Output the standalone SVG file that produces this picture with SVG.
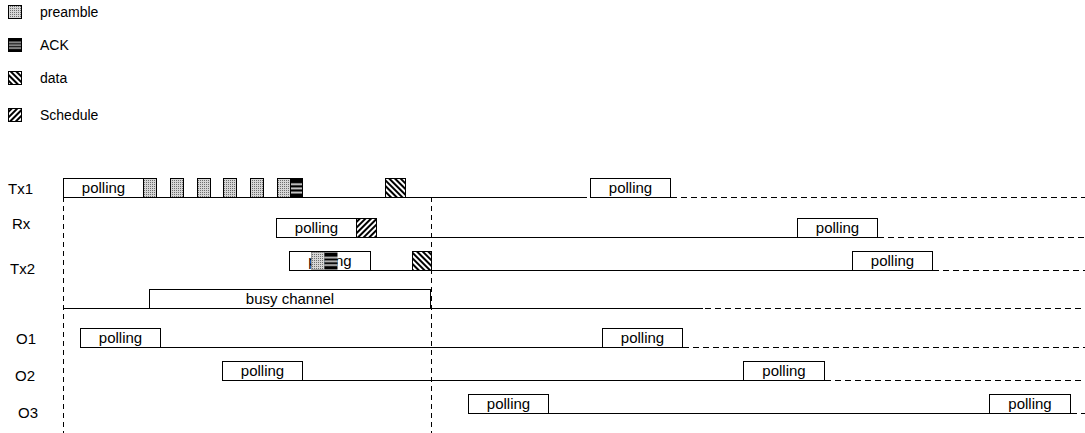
<svg xmlns="http://www.w3.org/2000/svg" width="1085" height="433" viewBox="0 0 1085 433">
<style>
text{font-family:"Liberation Sans",Arial,sans-serif;font-size:15px;fill:#000}
.lg{font-size:14px}
.c{text-anchor:middle}
.box{fill:#fff;stroke:#000;stroke-width:1}
.blk{stroke:#000;stroke-width:1}
.ln{stroke:#000;stroke-width:1;fill:none}
.dh{stroke:#000;stroke-width:1;fill:none;stroke-dasharray:6 4}
.dv{stroke:#000;stroke-width:1;fill:none;stroke-dasharray:5 4}
</style>
<defs>
<pattern id="pre" width="2" height="2" patternUnits="userSpaceOnUse"><rect width="2" height="2" fill="#d6d6d6"/><rect width="1" height="1" fill="#6e6e6e"/></pattern>
<pattern id="ack" width="1" height="1" patternUnits="objectBoundingBox" patternContentUnits="objectBoundingBox"><rect width="1" height="1" fill="#000"/><rect y="0.26" width="1" height="0.08" fill="#fff"/><rect y="0.48" width="1" height="0.08" fill="#fff"/><rect y="0.7" width="1" height="0.08" fill="#fff"/></pattern>
<pattern id="dat" width="4" height="4" patternUnits="userSpaceOnUse" patternTransform="rotate(-45)"><rect width="4" height="4" fill="#fff"/><rect width="2" height="4" fill="#000"/></pattern>
<pattern id="sch" width="4" height="4" patternUnits="userSpaceOnUse" patternTransform="rotate(45)"><rect width="4" height="4" fill="#fff"/><rect width="2" height="4" fill="#000"/></pattern>
</defs>

<g id="legend">
<rect class="blk" x="8.5" y="5.5" width="13" height="13" fill="url(#pre)"/><text class="lg" x="40" y="17">preamble</text>
<rect class="blk" x="8.5" y="38.5" width="13" height="13" fill="url(#ack)"/><text class="lg" x="40" y="50">ACK</text>
<rect class="blk" x="8.5" y="71.5" width="13" height="13" fill="url(#dat)"/><text class="lg" x="40" y="83">data</text>
<rect class="blk" x="8.5" y="108.5" width="13" height="13" fill="url(#sch)"/><text class="lg" x="40" y="120">Schedule</text>
</g>

<g id="labels">
<text x="8" y="194">Tx1</text>
<text x="12" y="229">Rx</text>
<text x="10" y="274">Tx2</text>
<text x="16" y="344">O1</text>
<text x="15" y="381">O2</text>
<text x="18" y="418">O3</text>
</g>

<g id="connectors">
<line class="dv" x1="63.5" y1="197" x2="63.5" y2="433"/>
<line class="dv" x1="431.5" y1="197" x2="431.5" y2="433"/>
<line class="ln" x1="63" y1="197.5" x2="587" y2="197.5"/>
<line class="dh" x1="671" y1="197.5" x2="1085" y2="197.5"/>
<line class="ln" x1="276" y1="237.5" x2="797" y2="237.5"/>
<line class="dh" x1="878" y1="237.5" x2="1085" y2="237.5"/>
<line class="ln" x1="289" y1="270.5" x2="852" y2="270.5"/>
<line class="dh" x1="933" y1="270.5" x2="1085" y2="270.5"/>
<line class="ln" x1="63" y1="308.5" x2="703" y2="308.5"/>
<line class="dh" x1="705" y1="308.5" x2="1085" y2="308.5"/>
<line class="ln" x1="80" y1="347.5" x2="602" y2="347.5"/>
<line class="dh" x1="683" y1="347.5" x2="1085" y2="347.5"/>
<line class="ln" x1="222" y1="380.5" x2="743" y2="380.5"/>
<line class="dh" x1="825" y1="380.5" x2="1085" y2="380.5"/>
<line class="ln" x1="468" y1="413.5" x2="989" y2="413.5"/>
<line class="dh" x1="1071" y1="413.5" x2="1085" y2="413.5"/>
</g>

<g id="tx1">
<g id="tx1-poll1"><rect class="box" x="63.5" y="178.5" width="80" height="19"/><text class="c" x="103.5" y="193">polling</text></g>
<rect class="blk" x="143.5" y="178.5" width="13" height="19" fill="url(#pre)"/>
<rect class="blk" x="170.5" y="178.5" width="13" height="19" fill="url(#pre)"/>
<rect class="blk" x="197.5" y="178.5" width="13" height="19" fill="url(#pre)"/>
<rect class="blk" x="223.5" y="178.5" width="13" height="19" fill="url(#pre)"/>
<rect class="blk" x="250.5" y="178.5" width="13" height="19" fill="url(#pre)"/>
<rect class="blk" x="277.5" y="178.5" width="13" height="19" fill="url(#pre)"/>
<rect class="blk" x="290.5" y="178.5" width="12" height="19" fill="url(#ack)"/>
<rect class="blk" x="385.5" y="178.5" width="20" height="19" fill="url(#dat)"/>
<g id="tx1-poll2"><rect class="box" x="590.5" y="178.5" width="80" height="19"/><text class="c" x="630.5" y="193">polling</text></g>
</g>

<g id="rx">
<g id="rx-poll1"><rect class="box" x="276.5" y="218.5" width="80" height="19"/><text class="c" x="316.5" y="233">polling</text></g>
<rect class="blk" x="356.5" y="218.5" width="20" height="19" fill="url(#sch)"/>
<g id="rx-poll2"><rect class="box" x="797.5" y="218.5" width="80" height="19"/><text class="c" x="837.5" y="233">polling</text></g>
</g>

<g id="tx2">
<g id="tx2-poll1"><rect class="box" x="289.5" y="251.5" width="81" height="19"/><text class="c" x="330" y="266">polling</text></g>
<rect x="311.5" y="252.5" width="13" height="17" fill="url(#pre)" stroke="#555" stroke-width="0.5"/>
<rect x="324.5" y="252.5" width="13" height="17" fill="url(#ack)"/>
<rect class="blk" x="412.5" y="251.5" width="19" height="19" fill="url(#dat)"/>
<g id="tx2-poll2"><rect class="box" x="852.5" y="251.5" width="80" height="19"/><text class="c" x="892.5" y="266">polling</text></g>
</g>

<g id="busy">
<rect class="box" x="149.5" y="289.5" width="281" height="19"/><text class="c" x="290" y="304">busy channel</text>
</g>

<g id="o1">
<g id="o1-poll1"><rect class="box" x="80.5" y="328.5" width="80" height="19"/><text class="c" x="120.5" y="343">polling</text></g>
<g id="o1-poll2"><rect class="box" x="602.5" y="328.5" width="80" height="19"/><text class="c" x="642.5" y="343">polling</text></g>
</g>

<g id="o2">
<g id="o2-poll1"><rect class="box" x="222.5" y="361.5" width="80" height="19"/><text class="c" x="262.5" y="376">polling</text></g>
<g id="o2-poll2"><rect class="box" x="743.5" y="361.5" width="81" height="19"/><text class="c" x="784" y="376">polling</text></g>
</g>

<g id="o3">
<g id="o3-poll1"><rect class="box" x="468.5" y="394.5" width="80" height="19"/><text class="c" x="508.5" y="409">polling</text></g>
<g id="o3-poll2"><rect class="box" x="989.5" y="394.5" width="81" height="19"/><text class="c" x="1030" y="409">polling</text></g>
</g>
</svg>
